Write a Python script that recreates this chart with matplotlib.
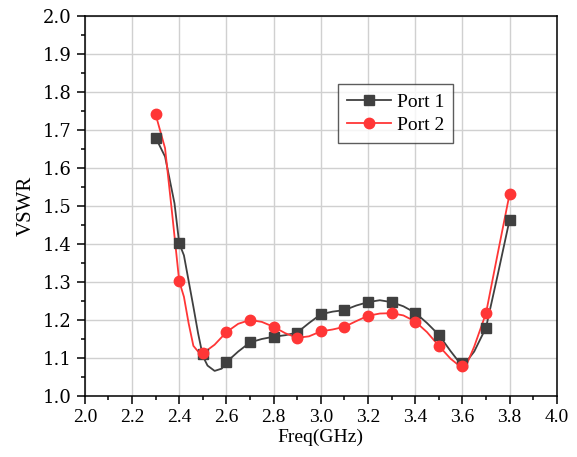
import numpy as np
import matplotlib.pyplot as plt

# measured points (markers), every 0.1 GHz
freq_pts = np.round(np.arange(2.3, 3.81, 0.1), 2)
port1_pts = [1.680, 1.402, 1.110, 1.089, 1.141, 1.156, 1.167, 1.215,
             1.226, 1.247, 1.247, 1.219, 1.161, 1.088, 1.180, 1.464]
port2_pts = [1.741, 1.302, 1.112, 1.168, 1.200, 1.182, 1.153, 1.170,
             1.182, 1.211, 1.218, 1.196, 1.132, 1.080, 1.218, 1.532]

# curves
freq1_line = [2.30, 2.34, 2.38, 2.40, 2.42, 2.46, 2.48, 2.50, 2.52, 2.55,
              2.58, 2.60, 2.65, 2.70, 2.75, 2.80, 2.85, 2.90, 2.95, 3.00,
              3.05, 3.10, 3.15, 3.20, 3.25, 3.30, 3.35, 3.40, 3.45, 3.50,
              3.55, 3.58, 3.60, 3.62, 3.65, 3.70, 3.75, 3.80]
port1_line = [1.680, 1.630, 1.507, 1.402, 1.370, 1.235, 1.165, 1.105, 1.080, 1.066,
              1.072, 1.089, 1.117, 1.141, 1.150, 1.156, 1.160, 1.167, 1.192, 1.215,
              1.222, 1.226, 1.238, 1.247, 1.252, 1.247, 1.236, 1.219, 1.192, 1.161,
              1.118, 1.094, 1.090, 1.093, 1.117, 1.180, 1.320, 1.464]
freq2_line = [2.30, 2.34, 2.37, 2.40, 2.42, 2.44, 2.46, 2.48, 2.50, 2.55,
              2.60, 2.65, 2.70, 2.75, 2.80, 2.85, 2.90, 2.95, 3.00, 3.05,
              3.10, 3.15, 3.20, 3.25, 3.30, 3.35, 3.40, 3.45, 3.50, 3.55,
              3.58, 3.60, 3.62, 3.65, 3.70, 3.75, 3.80]
port2_line = [1.741, 1.652, 1.480, 1.302, 1.261, 1.191, 1.132, 1.117, 1.112, 1.135,
              1.168, 1.190, 1.200, 1.195, 1.182, 1.165, 1.153, 1.157, 1.170, 1.175,
              1.182, 1.197, 1.211, 1.217, 1.218, 1.212, 1.196, 1.168, 1.132, 1.098,
              1.083, 1.080, 1.086, 1.130, 1.218, 1.376, 1.532]

c1 = '#404040'
c2 = '#ff3636'

plt.rcParams['font.family'] = 'Liberation Serif'
fig = plt.figure(figsize=(5.77, 4.57), dpi=100)
ax = fig.add_axes([0.147, 0.1335, 0.818, 0.8315])

ax.plot(freq1_line, port1_line, '-', color=c1, lw=1.3)
ax.plot(freq2_line, port2_line, '-', color=c2, lw=1.3)
ax.plot(freq_pts, port1_pts, 's', color=c1, ms=6.5, zorder=3)
ax.plot(freq_pts, port2_pts, 'o', color=c2, ms=7.5, zorder=3)

# legend handles
ax.plot([], [], '-s', color=c1, lw=1.3, ms=6.5, label='Port 1')
ax.plot([], [], '-o', color=c2, lw=1.3, ms=7.5, label='Port 2')

ax.set_xlim(2.0, 4.0)
ax.set_ylim(1.0, 2.0)
xt = np.round(np.arange(2.0, 4.01, 0.2), 1)
yt = np.round(np.arange(1.0, 2.01, 0.1), 1)
ax.set_xticks(xt)
ax.set_xticklabels(['%.1f' % v for v in xt])
ax.set_yticks(yt)
ax.set_yticklabels(['%.1f' % v for v in yt], family='DejaVu Serif', fontsize=13)
ax.set_xticks(np.arange(2.1, 4.0, 0.2), minor=True)
ax.set_yticks(np.arange(1.05, 2.0, 0.1), minor=True)
ax.tick_params(axis='x', which='major', labelsize=14)
ax.tick_params(which='major', direction='out', length=6, width=1.1)
ax.tick_params(which='minor', direction='out', length=3, width=1.1)
ax.grid(True, which='major', color='#d0d0d0', lw=1.0)
for s in ax.spines.values():
    s.set_linewidth(1.1)

ax.set_xlabel('Freq(GHz)', fontsize=14, labelpad=2)
ax.set_ylabel('VSWR', fontsize=15, labelpad=5)

leg = ax.legend(loc='upper left', bbox_to_anchor=(0.536, 0.82), fontsize=14,
                frameon=True, fancybox=False, edgecolor='#333333',
                handlelength=2.3, borderpad=0.45, labelspacing=0.3,
                handletextpad=0.3, borderaxespad=0)
leg.get_frame().set_linewidth(1.0)

fig.savefig('out.png', dpi=100)
